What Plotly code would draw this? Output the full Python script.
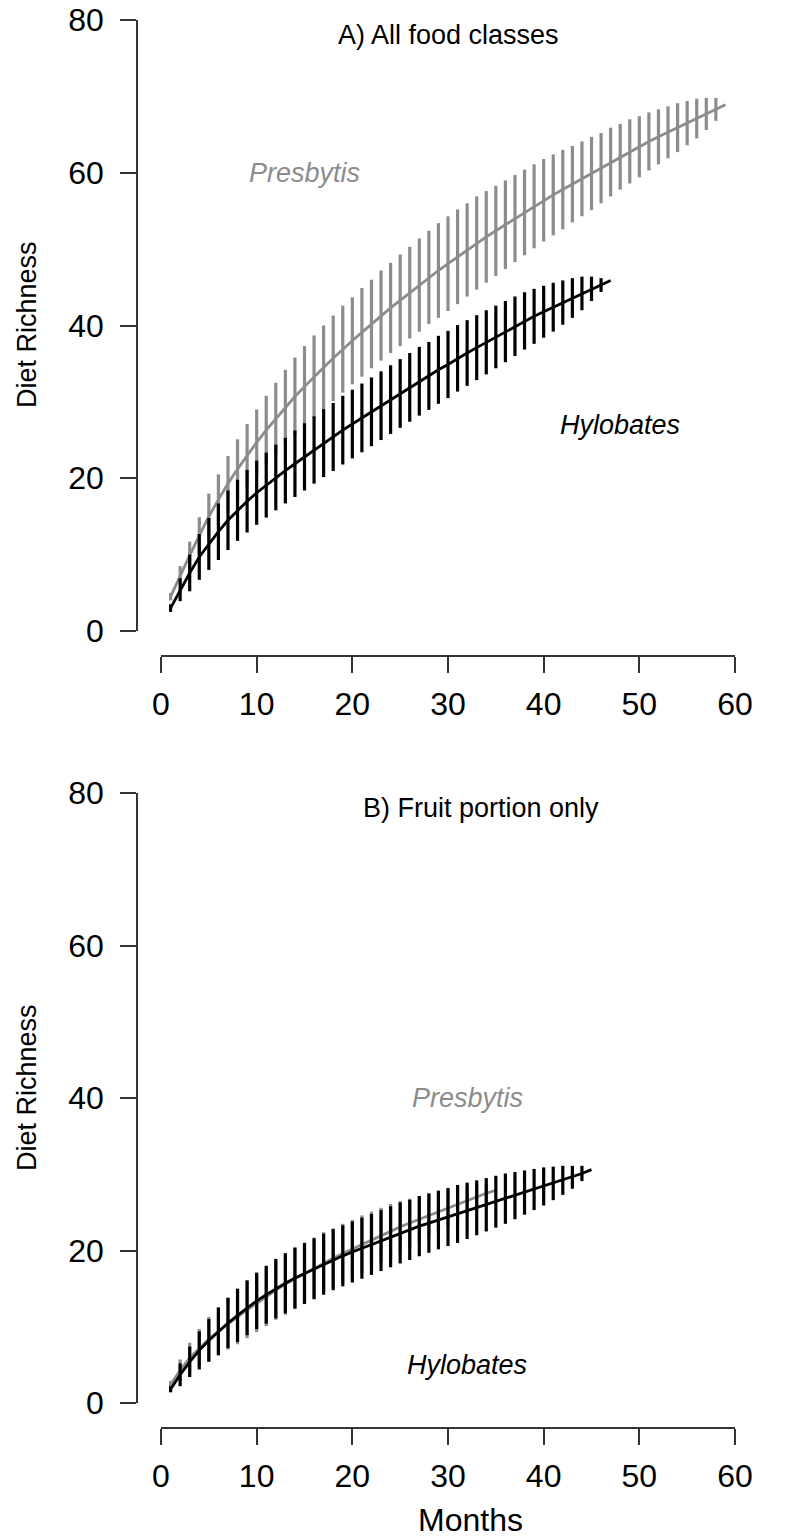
import plotly.graph_objects as go

# ---------------- data ----------------
months_pres_a = list(range(1, 60))
pres_a_mean = [4.5, 7.3, 9.9, 12.5, 15.0, 17.2, 19.3, 21.2, 23.0, 24.7,
               26.3, 27.8, 29.3, 30.7, 32.0, 33.3, 34.5, 35.7, 36.9, 38.0,
               39.1, 40.2, 41.3, 42.3, 43.3, 44.3, 45.3, 46.3, 47.2, 48.1,
               49.0, 49.9, 50.8, 51.6, 52.4, 53.2, 54.0, 54.8, 55.6, 56.4,
               57.1, 57.8, 58.5, 59.2, 59.9, 60.6, 61.4, 62.1, 62.8, 63.4,
               64.1, 64.7, 65.3, 65.9, 66.5, 67.1, 67.7, 68.3, 68.9]
pres_a_sd = [0.5, 1.2, 1.8, 2.4, 3.0, 3.3, 3.6, 3.9, 4.1, 4.3,
             4.5, 4.7, 4.9, 5.1, 5.3, 5.4, 5.5, 5.6, 5.7, 5.7,
             5.8, 5.8, 5.9, 5.9, 6.0, 6.0, 6.1, 6.1, 6.2, 6.2,
             6.2, 6.1, 6.1, 6.0, 5.9, 5.8, 5.7, 5.6, 5.5, 5.4,
             5.3, 5.2, 5.0, 4.9, 4.8, 4.6, 4.5, 4.3, 4.2, 4.0,
             3.8, 3.6, 3.4, 3.2, 2.9, 2.6, 2.1, 1.5, 0.0]

months_hylo_a = list(range(1, 48))
hylo_a_mean = [3.0, 5.4, 7.6, 9.7, 11.4, 13.0, 14.5, 15.8, 17.0, 18.1,
               19.1, 20.1, 21.0, 21.9, 22.8, 23.7, 24.6, 25.4, 26.3, 27.1,
               27.9, 28.7, 29.5, 30.3, 31.1, 31.9, 32.7, 33.4, 34.2, 34.9,
               35.7, 36.4, 37.1, 37.8, 38.5, 39.2, 39.9, 40.6, 41.2, 41.8,
               42.4, 43.0, 43.6, 44.2, 44.8, 45.3, 45.9]
hylo_a_sd = [0.5, 1.5, 2.4, 3.0, 3.4, 3.7, 3.9, 4.0, 4.1, 4.2,
             4.25, 4.3, 4.3, 4.35, 4.4, 4.4, 4.45, 4.45, 4.5, 4.5,
             4.5, 4.5, 4.5, 4.5, 4.5, 4.5, 4.5, 4.45, 4.45, 4.4,
             4.35, 4.3, 4.25, 4.2, 4.1, 4.0, 3.9, 3.75, 3.6, 3.4,
             3.2, 2.9, 2.6, 2.2, 1.6, 0.9, 0.0]

months_pres_b = list(range(1, 36))
pres_b_mean = [2.4, 4.3, 5.9, 7.2, 8.4, 9.4, 10.4, 11.3, 12.2, 13.1,
               14.0, 14.8, 15.6, 16.3, 17.0, 17.7, 18.4, 19.0, 19.6, 20.2,
               20.8, 21.4, 22.0, 22.6, 23.1, 23.6, 24.1, 24.6, 25.1, 25.6,
               26.1, 26.6, 27.1, 27.5, 27.9]
pres_b_sd = [0.5, 1.4, 2.0, 2.5, 2.9, 3.2, 3.4, 3.6, 3.7, 3.8,
             3.9, 3.9, 4.0, 4.0, 4.0, 4.0, 4.0, 3.9, 3.9, 3.8,
             3.8, 3.7, 3.6, 3.5, 3.4, 3.2, 3.0, 2.8, 2.6, 2.4,
             2.1, 1.8, 1.5, 1.2, 0.0]

months_hylo_b = list(range(1, 46))
hylo_b_mean = [1.8, 3.7, 5.4, 6.9, 8.2, 9.4, 10.5, 11.5, 12.5, 13.4,
               14.2, 15.0, 15.7, 16.4, 17.0, 17.6, 18.2, 18.8, 19.3, 19.8,
               20.3, 20.8, 21.3, 21.8, 22.3, 22.7, 23.2, 23.6, 24.0, 24.4,
               24.8, 25.2, 25.6, 26.0, 26.4, 26.8, 27.2, 27.6, 28.0, 28.4,
               28.8, 29.2, 29.6, 30.1, 30.6]
hylo_b_sd = [0.4, 1.5, 2.0, 2.5, 2.8, 3.1, 3.3, 3.5, 3.6, 3.7,
             3.8, 3.9, 3.95, 4.0, 4.0, 4.0, 4.0, 4.0, 4.0, 4.0,
             4.0, 4.0, 4.0, 4.0, 4.0, 3.95, 3.95, 3.9, 3.85, 3.8,
             3.8, 3.7, 3.6, 3.5, 3.4, 3.3, 3.1, 2.9, 2.7, 2.5,
             2.2, 1.9, 1.5, 1.0, 0.0]

x_ticks = [0, 10, 20, 30, 40, 50, 60]
y_ticks = [0, 20, 40, 60, 80]

# ---------------- layout constants (pixels) ----------------
W, H = 794, 1538
GRAY = "#8c8c8c"
FONT = "Liberation Sans, Arial, sans-serif"
AX = "#333333"


def px_x(p):
    return p / W


def px_y(p):
    return 1 - p / H


xdom = [px_x(161), px_x(735)]
ya_dom = [px_y(631), px_y(20)]
yb_dom = [px_y(1403), px_y(793)]

fig = go.Figure()


def add_series(x, y, sd, color, xa, ya):
    fig.add_trace(go.Scatter(
        x=x, y=y, mode="lines", xaxis=xa, yaxis=ya,
        line=dict(color=color, width=2.8),
        error_y=dict(type="data", array=sd, symmetric=True,
                     color=color, thickness=3.2, width=0),
        showlegend=False, hoverinfo="skip"))


add_series(months_pres_a, pres_a_mean, pres_a_sd, GRAY, "x", "y")
add_series(months_hylo_a, hylo_a_mean, hylo_a_sd, "#000000", "x", "y")
add_series(months_pres_b, pres_b_mean, pres_b_sd, GRAY, "x2", "y2")
add_series(months_hylo_b, hylo_b_mean, hylo_b_sd, "#000000", "x2", "y2")

xcommon = dict(range=[0, 60], domain=xdom, tickvals=x_ticks, ticks="outside",
               ticklen=16, tickwidth=1.6, tickcolor=AX, showline=True,
               linecolor=AX, linewidth=1.6, showgrid=False, zeroline=False,
               tickfont=dict(family=FONT, size=32, color="#000"),
               anchor="free", ticklabelstandoff=4)
ycommon = dict(range=[0, 80], tickvals=y_ticks, ticks="outside",
               ticklen=16, tickwidth=1.6, tickcolor=AX, showline=True,
               linecolor=AX, linewidth=1.6, showgrid=False, zeroline=False,
               tickfont=dict(family=FONT, size=32, color="#000"),
               anchor="free", position=px_x(137), ticklabelstandoff=10)

fig.update_layout(
    width=W, height=H,
    margin=dict(l=0, r=0, t=0, b=0, pad=0, autoexpand=False),
    paper_bgcolor="white", plot_bgcolor="white",
    xaxis=dict(**xcommon, position=px_y(656)),
    yaxis=dict(**ycommon, domain=ya_dom),
    xaxis2=dict(**xcommon, position=px_y(1428)),
    yaxis2=dict(**ycommon, domain=yb_dom),
)

ann = []
TS = 27
tf = dict(family=FONT, size=TS, color="#000")
gf = dict(family=FONT, size=TS, color=GRAY)
C = dict(showarrow=False, xanchor="center", yanchor="middle")
ann.append(dict(x=30, y=78, xref="x", yref="y", text="A) All food classes",
                font=tf, **C))
ann.append(dict(x=15, y=60, xref="x", yref="y", text="<i>Presbytis</i>",
                font=gf, **C))
ann.append(dict(x=48, y=27, xref="x", yref="y", text="<i>Hylobates</i>",
                font=tf, **C))
ann.append(dict(x=33.5, y=78, xref="x2", yref="y2", text="B) Fruit portion only",
                font=tf, **C))
ann.append(dict(x=32, y=40, xref="x2", yref="y2", text="<i>Presbytis</i>",
                font=gf, **C))
ann.append(dict(x=32, y=5, xref="x2", yref="y2", text="<i>Hylobates</i>",
                font=tf, **C))
for yc in (325, 1088):
    ann.append(dict(x=px_x(27), y=px_y(yc), xref="paper", yref="paper",
                    text="Diet Richness", textangle=-90,
                    font=dict(family=FONT, size=TS, color="#000"), **C))
ann.append(dict(x=px_x(470), y=px_y(1520), xref="paper", yref="paper",
                text="Months", font=dict(family=FONT, size=32, color="#000"),
                **C))
fig.update_layout(annotations=ann)

fig.write_html("out.html",
               config={"displayModeBar": False},
               post_script="document.body.style.margin='0px';"
                           "document.body.style.padding='0px';")
